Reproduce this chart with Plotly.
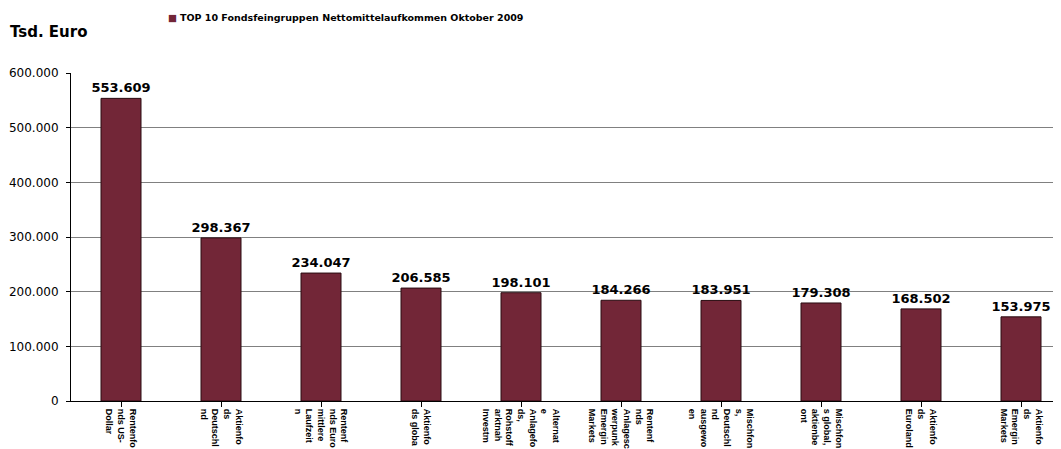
import plotly.graph_objects as go

categories = [
    "Rentenfo<br>nds US-<br>Dollar",
    "Aktienfo<br>ds<br>Deutschl<br>nd",
    "Rentenf<br>nds Euro<br>mittlere<br>Laufzeit<br>n",
    "Aktienfo<br>ds globa",
    "Alternat<br>e<br>Anlagefo<br>ds,<br>Rohstoff<br>arktnah<br>Investm",
    "Rentenf<br>nds<br>Anlagesc<br>werpunk<br>Emergin<br>Markets",
    "Mischfon<br>s,<br>Deutschl<br>nd<br>ausgewo<br>en",
    "Mischfon<br>s global,<br>aktienbe<br>ont",
    "Aktienfo<br>ds<br>Euroland",
    "Aktienfo<br>ds<br>Emergin<br>Markets",
]
values = [553609, 298367, 234047, 206585, 198101, 184266, 183951, 179308, 168502, 153975]
series_name = "TOP 10 Fondsfeingruppen Nettomittelaufkommen Oktober 2009"
y_title = "Tsd. Euro"

FONT = "DejaVu Sans"
BAR = "#722637"

# page body has an 8px margin, so the figure is drawn 8px in from the window
W, H = 1053, 441
L, T, B = 63, 65, 48
PH = H - T - B
PW = W - L

fig = go.Figure()
fig.add_trace(go.Bar(
    x=list(range(len(categories))),
    y=values,
    name=series_name,
    marker=dict(color=BAR, line=dict(color="#2a0c12", width=1)),
    width=0.4,
    texttemplate="%{y:,d}",
    textposition="outside",
    constraintext="none",
    textfont=dict(family=FONT, size=13, color="black", weight="bold"),
    cliponaxis=False,
    showlegend=False,
))

fig.update_layout(
    width=W, height=H,
    margin=dict(l=L, r=0, t=T, b=B, autoexpand=False),
    paper_bgcolor="white", plot_bgcolor="white",
    separators=",.",
    font=dict(family=FONT, size=12, color="black"),
    bargap=0.6,
    showlegend=False,
    xaxis=dict(
        tickmode="array",
        tickvals=list(range(len(categories))),
        ticktext=categories,
        range=[-0.5, 9.4],
        tickangle=90,
        tickfont=dict(family="Liberation Sans", size=9, color="black", weight="bold"),
        showline=True, linecolor="black", linewidth=1,
        ticks="outside", ticklen=5, tickcolor="black",
        showgrid=False, zeroline=False,
    ),
    yaxis=dict(
        range=[0, 600000],
        tickmode="array",
        tickvals=[0, 100000, 200000, 300000, 400000, 500000, 600000],
        tickformat=",d",
        tickfont=dict(family=FONT, size=12, color="black"),
        ticklabelstandoff=5,
        showline=True, linecolor="black", linewidth=1,
        ticks="outside", ticklen=4, tickcolor="black",
        showgrid=True, gridcolor="#808080", gridwidth=1,
        zeroline=False,
    ),
    annotations=[
        dict(
            text="<b>" + y_title + "</b>",
            xref="paper", yref="paper",
            x=(0 - L) / PW, y=(T + PH - 24) / PH,
            xanchor="left", yanchor="middle",
            showarrow=False,
            font=dict(family=FONT, size=15, color="black"),
        ),
        dict(
            text="<span style='color:" + BAR + "'>■</span> <b>" + series_name + "</b>",
            xref="paper", yref="paper",
            x=(158 - L) / PW, y=(T + PH - 9) / PH,
            xanchor="left", yanchor="middle",
            showarrow=False,
            font=dict(family=FONT, size=9.5, color="black"),
        ),
    ],
)

fig.write_html("out.html")
